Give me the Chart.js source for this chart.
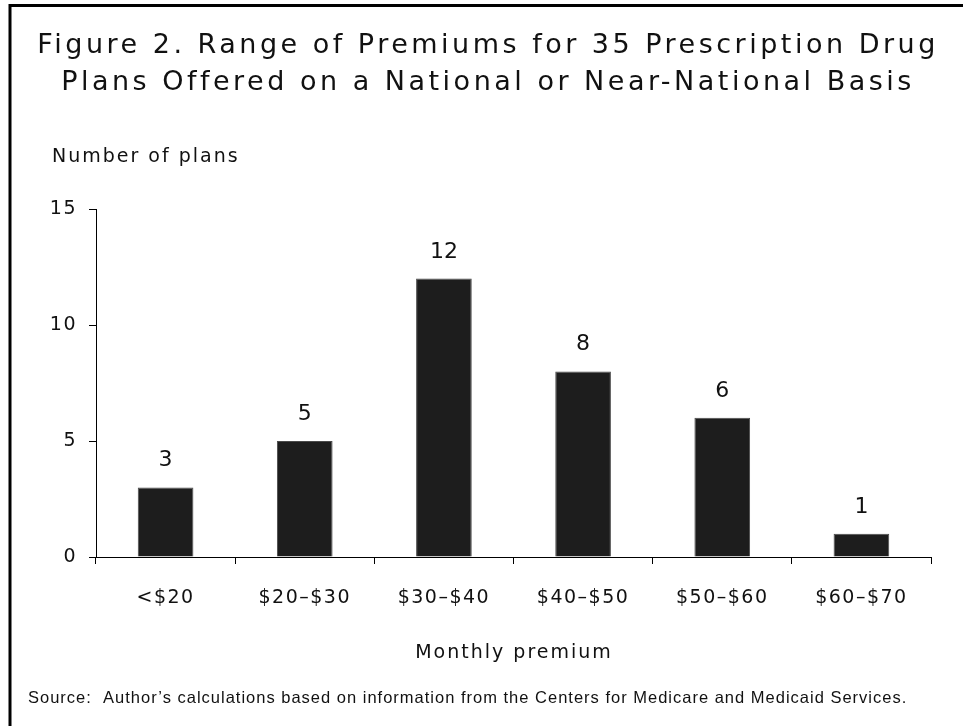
<!DOCTYPE html>
<html>
<head>
<meta charset="utf-8">
<script src="https://cdn.jsdelivr.net/npm/chart.js@4.4.0/dist/chart.umd.min.js"></script>
<style>
  html, body { margin: 0; padding: 0; background: #fff; }
</style>
</head>
<body>
<canvas id="newChart" width="963" height="726"></canvas>
<script>
// chart data
const categories = ["<$20", "$20\u2013$30", "$30\u2013$40", "$40\u2013$50", "$50\u2013$60", "$60\u2013$70"];
const planCounts = [3, 5, 12, 8, 6, 1];
const yTickValues = [0, 5, 10, 15];

const titleLines = [
    "Figure 2. Range of Premiums for 35 Prescription Drug",
    "Plans Offered on a National or Near-National Basis",
];
const yAxisTitle = "Number of plans";
const xAxisTitle = "Monthly premium";
const sourceNote = "Source:  Author\u2019s calculations based on information from the Centers for Medicare and Medicaid Services.";

const textFont = "'DejaVu Sans', Verdana, sans-serif";

// letter spacing for the axis tick labels (the library has no option for it)
const tickSpacingPlugin = {
    id: "tickSpacing",
    beforeDraw(chart) {
        chart.ctx.letterSpacing = "1.5px";
    },
};

// draws frame, titles, source line and the value labels above bars
const extrasPlugin = {
    id: "extras",
    afterDraw(chart) {
        const c = chart.ctx;
        c.save();
        // frame (left and top edges)
        c.strokeStyle = "#000";
        c.lineWidth = 3;
        c.beginPath();
        c.moveTo(10, 726);
        c.lineTo(10, 5.5);
        c.lineTo(963, 5.5);
        c.stroke();

        c.fillStyle = "#111";
        c.textBaseline = "alphabetic";

        // title
        c.textAlign = "center";
        c.font = "27px " + textFont;
        c.letterSpacing = "3.5px";
        c.fillText(titleLines[0], 488, 53);
        c.fillText(titleLines[1], 488, 90);

        // axis titles
        c.font = "19px " + textFont;
        c.letterSpacing = "2px";
        c.textAlign = "left";
        c.fillText(yAxisTitle, 52, 162);
        c.textAlign = "center";
        c.fillText(xAxisTitle, 514, 658);

        // source
        c.letterSpacing = "1px";
        c.textAlign = "left";
        c.font = "16.5px 'Liberation Sans', Arial, sans-serif";
        c.fillText(sourceNote, 28, 703);

        // value labels
        c.textAlign = "center";
        c.font = "22px " + textFont;
        c.letterSpacing = "0px";
        const meta = chart.getDatasetMeta(0);
        meta.data.forEach((bar, i) => {
            c.fillText(String(planCounts[i]), bar.x, bar.y - 21);
        });
        c.restore();
    },
};

const displayChart = new Chart(document.getElementById("newChart"), {
    type: "bar",
    data: {
        labels: categories,
        datasets: [
            {
                data: planCounts,
                backgroundColor: "#1d1d1d",
                borderColor: "#4a4a4a",
                borderWidth: 1,
                barPercentage: 0.4,
                categoryPercentage: 1.0,
            },
        ],
    },
    options: {
        responsive: false,
        animation: false,
        devicePixelRatio: 1,
        layout: {
            padding: { left: 36, right: 32, top: 209, bottom: 89 },
        },
        scales: {
            x: {
                afterFit: (scale) => { scale.height = 80; },
                grid: {
                    display: true,
                    drawOnChartArea: false,
                    offset: true,
                    tickLength: 7,
                    color: "#000",
                },
                border: { display: true, color: "#000", width: 1 },
                ticks: {
                    color: "#111",
                    padding: 23,
                    maxRotation: 0,
                    font: { family: textFont, size: 19 },
                },
            },
            y: {
                min: 0,
                max: 15,
                afterFit: (scale) => { scale.width = 60; },
                afterBuildTicks: (scale) => {
                    scale.ticks = yTickValues.map((v) => ({ value: v }));
                },
                grid: {
                    display: true,
                    drawOnChartArea: false,
                    tickLength: 7,
                    color: "#000",
                },
                border: { display: true, color: "#000", width: 1 },
                ticks: {
                    color: "#111",
                    padding: 12,
                    font: { family: textFont, size: 19 },
                },
            },
        },
        plugins: {
            legend: { display: false },
            title: { display: false },
            tooltip: { enabled: false },
        },
    },
    plugins: [tickSpacingPlugin, extrasPlugin],
});
</script>
</body>
</html>
